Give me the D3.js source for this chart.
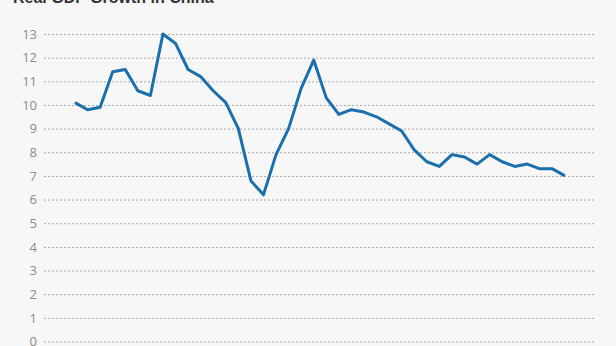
<html>
<head>
<script src="https://cdn.jsdelivr.net/npm/d3@7"></script>
<style>
body { margin: 0; background: #f7f7f7; font-family: "Liberation Sans", Arial, sans-serif; }
svg { display: block; }
.grid line { stroke: #a8a8a8; stroke-width: 1px; stroke-dasharray: 2,2; }
.grid path { display: none; }
.grid text { fill: #8c8c8c; font-size: 13px; font-family: "Open Sans", sans-serif; }
.title { font-weight: bold; font-size: 16px; fill: #333; }
.series { fill: none; stroke: #1c6fad; stroke-width: 3px; stroke-linejoin: round; }
</style>
</head>
<body>
<svg id="chart" width="616" height="346"></svg>
<script>
// quarterly real GDP growth, yoy %
var quarters = ["2005Q3","2005Q4","2006Q1","2006Q2","2006Q3","2006Q4",
  "2007Q1","2007Q2","2007Q3","2007Q4","2008Q1","2008Q2","2008Q3","2008Q4",
  "2009Q1","2009Q2","2009Q3","2009Q4","2010Q1","2010Q2","2010Q3","2010Q4",
  "2011Q1","2011Q2","2011Q3","2011Q4","2012Q1","2012Q2","2012Q3","2012Q4",
  "2013Q1","2013Q2","2013Q3","2013Q4","2014Q1","2014Q2","2014Q3","2014Q4",
  "2015Q1","2015Q2"];
var growth = [10.1, 9.8, 9.9, 11.4, 11.5, 10.6, 10.4, 13.0, 12.6, 11.5,
  11.2, 10.6, 10.1, 9.0, 6.8, 6.2, 7.9, 9.0, 10.7, 11.9,
  10.3, 9.6, 9.8, 9.7, 9.5, 9.2, 8.9, 8.1, 7.6, 7.4,
  7.9, 7.8, 7.5, 7.9, 7.6, 7.4, 7.5, 7.3, 7.3, 7.0];
var yTicks = d3.range(0, 14);
var title = "Real GDP Growth in China";

var svg = d3.select("#chart");
var x = d3.scalePoint().domain(quarters).range([75, 565]);
var y = d3.scaleLinear().domain([0, 13]).range([341.5, 34]);

svg.append("text").attr("class", "title")
    .attr("x", 13).attr("y", 3).text(title);

svg.append("g").attr("class", "grid")
    .attr("transform", "translate(44,0)")
    .call(d3.axisLeft(y).tickValues(yTicks).tickSize(-552).tickPadding(7));

var line = d3.line()
    .x(function(d, i) { return x(quarters[i]); })
    .y(function(d) { return y(d); });

svg.append("path").datum(growth)
    .attr("class", "series")
    .attr("d", line);
</script>
</body>
</html>
